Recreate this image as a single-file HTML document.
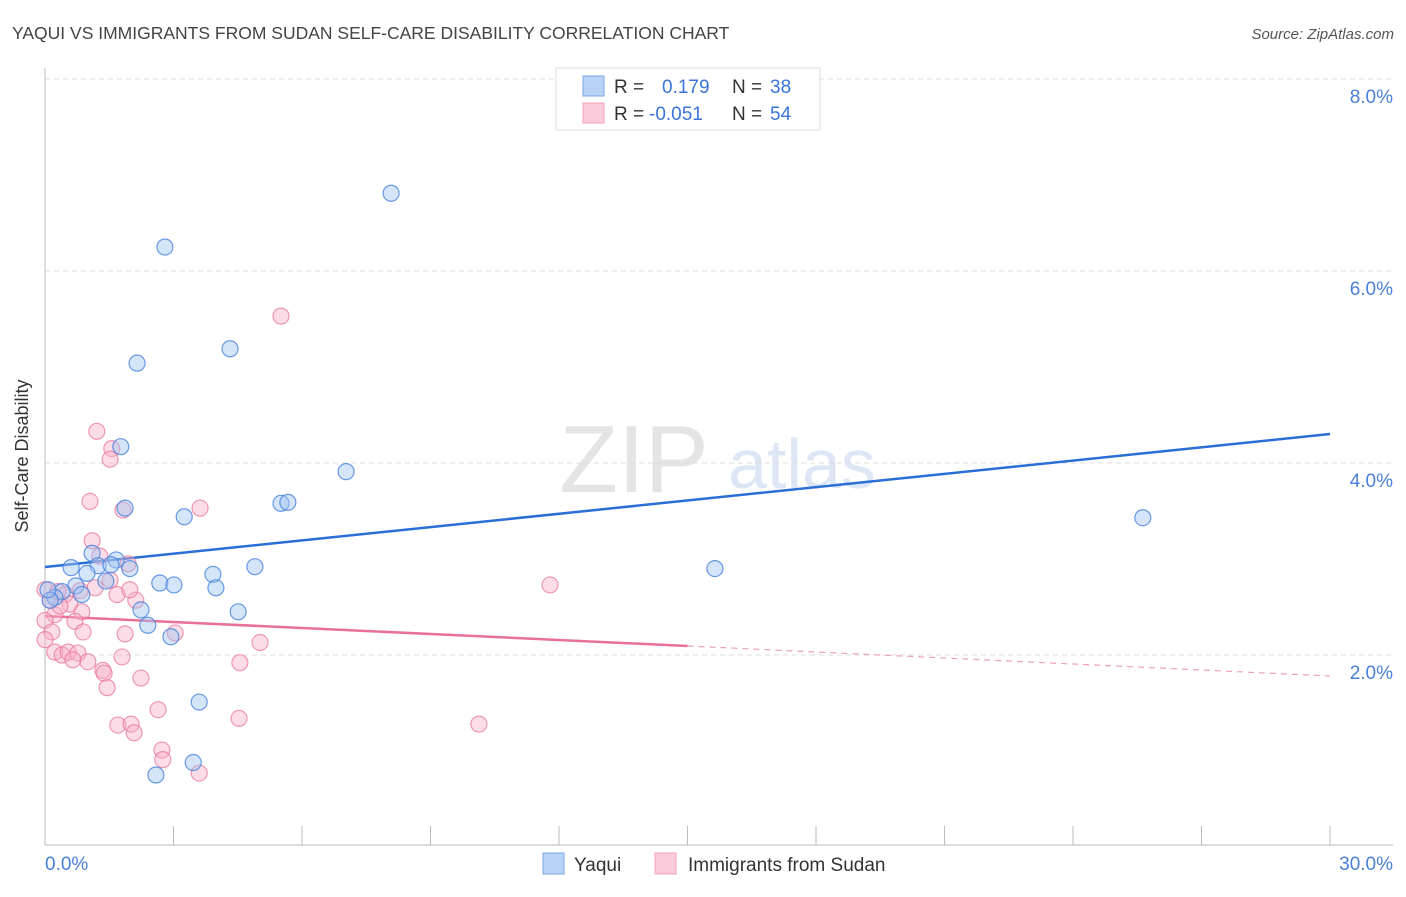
<!DOCTYPE html>
<html><head><meta charset="utf-8"><style>
body{margin:0;background:#fff;font-family:"Liberation Sans",sans-serif;}
svg text{font-family:"Liberation Sans",sans-serif;}
</style></head><body>
<svg id="chart" width="1406" height="892" xmlns="http://www.w3.org/2000/svg">
<text x="12" y="39" font-size="17.5" fill="#444">YAQUI VS IMMIGRANTS FROM SUDAN SELF-CARE DISABILITY CORRELATION CHART</text>
<text x="1394" y="39" font-size="15" fill="#555" font-style="italic" text-anchor="end">Source: ZipAtlas.com</text>
<text x="634" y="492" font-size="96" fill="#e4e4e4" font-family="Liberation Serif" text-anchor="middle">ZIP</text>
<text x="802" y="488" font-size="70" fill="#dce6f4" text-anchor="middle">atlas</text>
<g id="grid"></g>
<g id="axes"></g>
<g id="trends"></g>
<g id="points"></g>
<text x="28" y="456" font-size="18" fill="#333" text-anchor="middle" transform="rotate(-90 28 456)">Self-Care Disability</text>
<g>
<rect x="556" y="68" width="264" height="62" fill="#fff" stroke="#ddd"/>
<rect x="583" y="76" width="21" height="20" fill="#b8d3f6" stroke="#7aa6e6"/>
<rect x="583" y="103" width="21" height="20" fill="#fbcadb" stroke="#f0a0bc"/>
<text x="614" y="93" font-size="19" fill="#333">R = <tspan x="662" fill="#3a74d8">0.179</tspan><tspan x="732" fill="#333">N = </tspan><tspan x="770" fill="#3a74d8">38</tspan></text>
<text x="614" y="120" font-size="19" fill="#333">R = <tspan x="649" fill="#3a74d8">-0.051</tspan><tspan x="732" fill="#333">N = </tspan><tspan x="770" fill="#3a74d8">54</tspan></text>
</g>
<g>
<rect x="543" y="853" width="21" height="21" fill="#b8d3f6" stroke="#7aa6e6"/>
<text x="574" y="871" font-size="19" fill="#333">Yaqui</text>
<rect x="655" y="853" width="21" height="21" fill="#fbcadb" stroke="#f0a0bc"/>
<text x="688" y="871" font-size="19" fill="#333">Immigrants from Sudan</text>
</g>
</svg>
<script>
const yTicks=[2,4,6,8];
const yTickLabels=["2.0%","4.0%","6.0%","8.0%"];
const xTickLabels=["0.0%","30.0%"];
const yaquiX=[8.08,2.80,2.15,4.32,1.77,7.03,1.87,5.51,5.67,3.25,25.63,1.10,1.66,1.24,1.98,0.61,0.98,4.90,3.92,2.68,3.01,3.99,1.42,0.72,0.40,0.23,0.12,0.86,2.24,4.51,2.40,2.94,15.64,3.60,3.46,2.59,0.07,1.54];
const yaquiY=[6.81,6.25,5.04,5.19,4.17,3.91,3.53,3.58,3.59,3.44,3.43,3.06,2.99,2.93,2.90,2.91,2.85,2.92,2.84,2.75,2.73,2.70,2.77,2.72,2.66,2.60,2.57,2.63,2.47,2.45,2.31,2.19,2.90,1.51,0.88,0.75,2.68,2.94];
const sudanX=[5.51,1.21,1.56,1.52,1.05,1.82,3.62,1.10,1.28,1.94,11.79,0,0.82,0.47,0.30,1.68,2.12,0.58,0.86,0.70,0.23,0,0.89,1.87,3.04,5.02,0.16,0,0.23,0.40,0.54,0.77,1.00,0.65,1.80,4.55,1.35,1.38,1.45,2.24,2.64,4.53,10.13,1.70,2.01,2.08,2.73,2.75,3.60,0.12,0.35,1.52,1.17,1.98];
const sudanY=[5.53,4.33,4.15,4.04,3.60,3.51,3.53,3.19,3.03,2.95,2.73,2.68,2.67,2.63,2.66,2.63,2.57,2.53,2.45,2.35,2.42,2.36,2.24,2.22,2.23,2.13,2.24,2.16,2.03,2.00,2.03,2.02,1.93,1.95,1.98,1.92,1.84,1.81,1.66,1.76,1.43,1.34,1.28,1.27,1.28,1.19,1.01,0.91,0.77,2.57,2.51,2.78,2.70,2.68];
const yaquiTrend=[2.917,4.302];
const sudanTrend=[2.406,2.094,1.781];
const NS="http://www.w3.org/2000/svg";
const X=v=>45+v/30*1285, Y=v=>847-v*96;
function mk(tag,attrs,parent){const e=document.createElementNS(NS,tag);for(const k in attrs)e.setAttribute(k,attrs[k]);parent.appendChild(e);return e;}
const grid=document.getElementById('grid'),axes=document.getElementById('axes'),tr=document.getElementById('trends'),pts=document.getElementById('points');
yTicks.forEach((t,i)=>{
 const l=mk('line',{x1:45,x2:1393,y1:Y(t),y2:Y(t),stroke:'#ddd','stroke-dasharray':'5,4'},grid);
 
 
 const tx=mk('text',{x:1393,y:Y(t)+24,'font-size':19,fill:'#4a7fd6','text-anchor':'end'},grid);
 tx.textContent=yTickLabels[i];
 
 
});
const ax=mk('line',{x1:45,x2:1393,y1:845,y2:845,stroke:'#bbb'},axes);


const ay=mk('line',{x1:45,x2:45,y1:68,y2:845,stroke:'#bbb'},axes);


for(let i=0;i<=10;i++){
 const t=mk('line',{x1:X(i*3),x2:X(i*3),y1:826,y2:845,stroke:'#bbb'},axes);
 
 
}
const xl0=mk('text',{x:45,y:870,'font-size':19,fill:'#4a7fd6'},axes);
xl0.textContent=xTickLabels[0];


const xl1=mk('text',{x:1393,y:870,'font-size':19,fill:'#4a7fd6','text-anchor':'end'},axes);
xl1.textContent=xTickLabels[1];


function dot(x,y,fill,stroke,name){
 const c=mk('circle',{cx:X(x),cy:Y(y),r:8,fill:fill,stroke:stroke,'stroke-width':1.2},pts);
 
 
}
sudanX.forEach((x,i)=>dot(x,sudanY[i],'rgba(248,175,198,0.42)','rgba(232,120,155,0.75)','point-sudan'));
yaquiX.forEach((x,i)=>dot(x,yaquiY[i],'rgba(160,195,242,0.45)','rgba(70,130,220,0.8)','point-yaqui'));
const bl=mk('line',{x1:X(0),y1:Y(yaquiTrend[0]),x2:X(30),y2:Y(yaquiTrend[1]),stroke:'#2a6fd6','stroke-width':2.5},tr);


const pl=mk('line',{x1:X(0),y1:Y(sudanTrend[0]),x2:X(15),y2:Y(sudanTrend[1]),stroke:'#e8709a','stroke-width':2.5},tr);


const pd=mk('line',{x1:X(15),y1:Y(sudanTrend[1]),x2:X(30),y2:Y(sudanTrend[2]),stroke:'#eea0b8','stroke-width':1.2,'stroke-dasharray':'6,5'},tr);


</script>
</body></html>
